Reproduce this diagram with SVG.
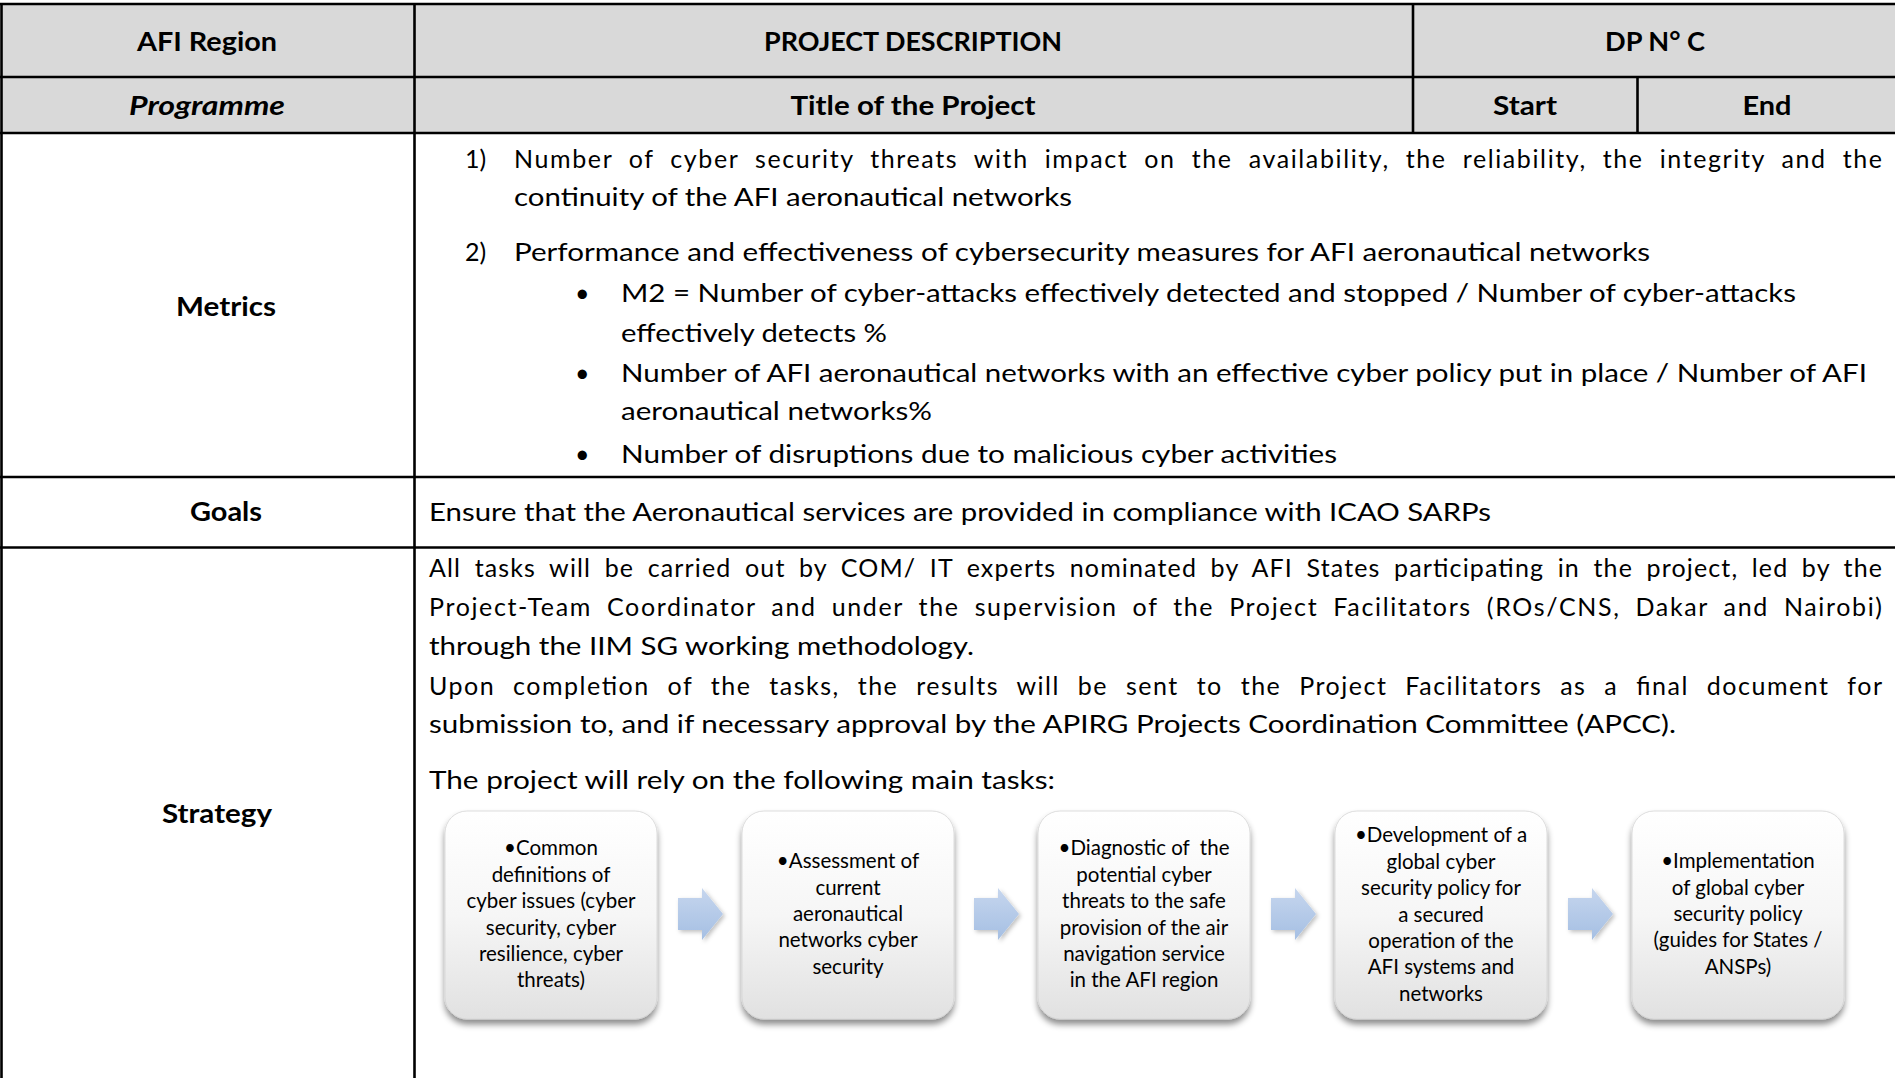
<svg xmlns="http://www.w3.org/2000/svg" width="1895" height="1078" viewBox="0 0 1895 1078">
<style>
.hd{font-family:Lato,"Open Sans",sans-serif;font-weight:bold;font-size:26px;fill:#000;text-anchor:middle}
.it{font-style:italic}
.tx{font-family:Lato,"Open Sans",sans-serif;font-size:25px;fill:#000}
.bx{font-family:Lato,"Open Sans",sans-serif;font-size:20.5px;fill:#000;text-anchor:middle}
.ln{stroke:#000;stroke-width:2.6;fill:none}
.box{fill:url(#bg);stroke:#d4d4d4;stroke-width:0.8;filter:url(#sh)}
.arr{fill:url(#ag)}
</style>
<defs>
<linearGradient id="bg" x1="0" y1="0" x2="0" y2="1">
<stop offset="0" stop-color="#ffffff"/>
<stop offset="0.5" stop-color="#f6f6f6"/>
<stop offset="1" stop-color="#e1e1e1"/>
</linearGradient>
<linearGradient id="ag" x1="0" y1="0" x2="0" y2="1">
<stop offset="0" stop-color="#c6d6ee"/>
<stop offset="1" stop-color="#a5bfe3"/>
</linearGradient>
<filter id="sh" x="-10%" y="-10%" width="120%" height="125%">
<feDropShadow dx="0" dy="5" stdDeviation="3" flood-color="#000" flood-opacity="0.45"/>
</filter>
<filter id="sh2" x="-20%" y="-20%" width="150%" height="150%">
<feDropShadow dx="2" dy="2" stdDeviation="2" flood-color="#000" flood-opacity="0.25"/>
</filter>
</defs>

<g id="table">
<rect x="1" y="4" width="1894" height="129" fill="#d9d9d9"/>
<line class="ln" x1="0" y1="4" x2="1895" y2="4"/>
<line class="ln" x1="0" y1="77" x2="1895" y2="77"/>
<line class="ln" x1="0" y1="133" x2="1895" y2="133"/>
<line class="ln" x1="0" y1="477" x2="1895" y2="477"/>
<line class="ln" x1="0" y1="547.5" x2="1895" y2="547.5"/>
<line class="ln" x1="1.5" y1="4" x2="1.5" y2="1078"/>
<line class="ln" x1="414.5" y1="4" x2="414.5" y2="1078"/>
<line class="ln" x1="1413" y1="4" x2="1413" y2="133"/>
<line class="ln" x1="1637.5" y1="77" x2="1637.5" y2="133"/>
</g>

<g id="header">
<text class="hd" x="207" y="51" textLength="140" lengthAdjust="spacingAndGlyphs">AFI Region</text>
<text class="hd" x="913" y="51" textLength="298" lengthAdjust="spacingAndGlyphs">PROJECT DESCRIPTION</text>
<text class="hd" x="1655" y="51" textLength="100" lengthAdjust="spacingAndGlyphs">DP N° C</text>
<text class="hd it" x="207" y="115" textLength="156" lengthAdjust="spacingAndGlyphs">Programme</text>
<text class="hd" x="913" y="115" textLength="245" lengthAdjust="spacingAndGlyphs">Title of the Project</text>
<text class="hd" x="1525" y="115" textLength="64" lengthAdjust="spacingAndGlyphs">Start</text>
<text class="hd" x="1767" y="115" textLength="49" lengthAdjust="spacingAndGlyphs">End</text>
</g>

<g id="metrics">
<text class="hd" x="226" y="316" textLength="100" lengthAdjust="spacingAndGlyphs">Metrics</text>
<text class="tx" x="465" y="168">1)</text>
<text class="tx" x="514" y="168" word-spacing="8" textLength="1368" lengthAdjust="spacing">Number of cyber security threats with impact on the availability, the reliability, the integrity and the</text>
<text class="tx" x="514" y="206" textLength="558" lengthAdjust="spacingAndGlyphs">continuity of the AFI aeronautical networks</text>
<text class="tx" x="465" y="261">2)</text>
<text class="tx" x="514" y="261" textLength="1136" lengthAdjust="spacingAndGlyphs">Performance and effectiveness of cybersecurity measures for AFI aeronautical networks</text>
<text class="tx" x="575" y="302">•</text>
<text class="tx" x="621" y="302" textLength="1175" lengthAdjust="spacingAndGlyphs">M2 = Number of cyber-attacks effectively detected and stopped / Number of cyber-attacks</text>
<text class="tx" x="621" y="342" textLength="266" lengthAdjust="spacingAndGlyphs">effectively detects %</text>
<text class="tx" x="575" y="382">•</text>
<text class="tx" x="621" y="382" textLength="1246" lengthAdjust="spacingAndGlyphs">Number of AFI aeronautical networks with an effective cyber policy put in place / Number of AFI</text>
<text class="tx" x="621" y="420" textLength="311" lengthAdjust="spacingAndGlyphs">aeronautical networks%</text>
<text class="tx" x="575" y="463">•</text>
<text class="tx" x="621" y="463" textLength="716" lengthAdjust="spacingAndGlyphs">Number of disruptions due to malicious cyber activities</text>
</g>

<g id="goals">
<text class="hd" x="226" y="521" textLength="72" lengthAdjust="spacingAndGlyphs">Goals</text>
<text class="tx" x="429" y="521" textLength="1062" lengthAdjust="spacingAndGlyphs">Ensure that the Aeronautical services are provided in compliance with ICAO SARPs</text>
</g>

<g id="strategy">
<text class="hd" x="217" y="823" textLength="110" lengthAdjust="spacingAndGlyphs">Strategy</text>
<text class="tx" x="429" y="577" word-spacing="6" textLength="1453" lengthAdjust="spacing">All tasks will be carried out by COM/ IT experts nominated by AFI States participating in the project, led by the</text>
<text class="tx" x="429" y="616" word-spacing="7" textLength="1453" lengthAdjust="spacing">Project-Team Coordinator and under the supervision of the Project Facilitators (ROs/CNS, Dakar and Nairobi)</text>
<text class="tx" x="429" y="655" textLength="545" lengthAdjust="spacingAndGlyphs">through the IIM SG working methodology.</text>
<text class="tx" x="429" y="695" word-spacing="10" textLength="1453" lengthAdjust="spacing">Upon completion of the tasks, the results will be sent to the Project Facilitators as a final document for</text>
<text class="tx" x="429" y="733" textLength="1247" lengthAdjust="spacingAndGlyphs">submission to, and if necessary approval by the APIRG Projects Coordination Committee (APCC).</text>
<text class="tx" x="429" y="789" textLength="626" lengthAdjust="spacingAndGlyphs">The project will rely on the following main tasks:</text>
</g>

<g id="task1">
<rect class="box" x="445" y="811" width="212" height="208" rx="22"/>
<text class="bx" x="551" y="855">•Common</text>
<text class="bx" x="551" y="882">definitions of</text>
<text class="bx" x="551" y="908">cyber issues (cyber</text>
<text class="bx" x="551" y="935">security, cyber</text>
<text class="bx" x="551" y="961">resilience, cyber</text>
<text class="bx" x="551" y="987">threats)</text>
</g>
<g id="task2">
<rect class="box" x="742" y="811" width="212" height="208" rx="22"/>
<text class="bx" x="848" y="868">•Assessment of</text>
<text class="bx" x="848" y="895">current</text>
<text class="bx" x="848" y="921">aeronautical</text>
<text class="bx" x="848" y="947">networks cyber</text>
<text class="bx" x="848" y="974">security</text>
</g>
<g id="task3">
<rect class="box" x="1038" y="811" width="212" height="208" rx="22"/>
<text class="bx" x="1144" y="855" style="white-space:pre">•Diagnostic of  the</text>
<text class="bx" x="1144" y="882">potential cyber</text>
<text class="bx" x="1144" y="908">threats to the safe</text>
<text class="bx" x="1144" y="935">provision of the air</text>
<text class="bx" x="1144" y="961">navigation service</text>
<text class="bx" x="1144" y="987">in the AFI region</text>
</g>
<g id="task4">
<rect class="box" x="1335" y="811" width="212" height="208" rx="22"/>
<text class="bx" x="1441" y="842">•Development of a</text>
<text class="bx" x="1441" y="869">global cyber</text>
<text class="bx" x="1441" y="895">security policy for</text>
<text class="bx" x="1441" y="922">a secured</text>
<text class="bx" x="1441" y="948">operation of the</text>
<text class="bx" x="1441" y="974">AFI systems and</text>
<text class="bx" x="1441" y="1001">networks</text>
</g>
<g id="task5">
<rect class="box" x="1632" y="811" width="212" height="208" rx="22"/>
<text class="bx" x="1738" y="868">•Implementation</text>
<text class="bx" x="1738" y="895">of global cyber</text>
<text class="bx" x="1738" y="921">security policy</text>
<text class="bx" x="1738" y="947">(guides for States /</text>
<text class="bx" x="1738" y="974">ANSPs)</text>
</g>

<g id="connectors" filter="url(#sh2)">
<path class="arr" d="M678,898 H702 V888 L723,914 L702,940 V930 H678 Z"/>
<path class="arr" d="M974,898 H998 V888 L1019,914 L998,940 V930 H974 Z"/>
<path class="arr" d="M1271,898 H1295 V888 L1316,914 L1295,940 V930 H1271 Z"/>
<path class="arr" d="M1568,898 H1592 V888 L1613,914 L1592,940 V930 H1568 Z"/>
</g>
</svg>
